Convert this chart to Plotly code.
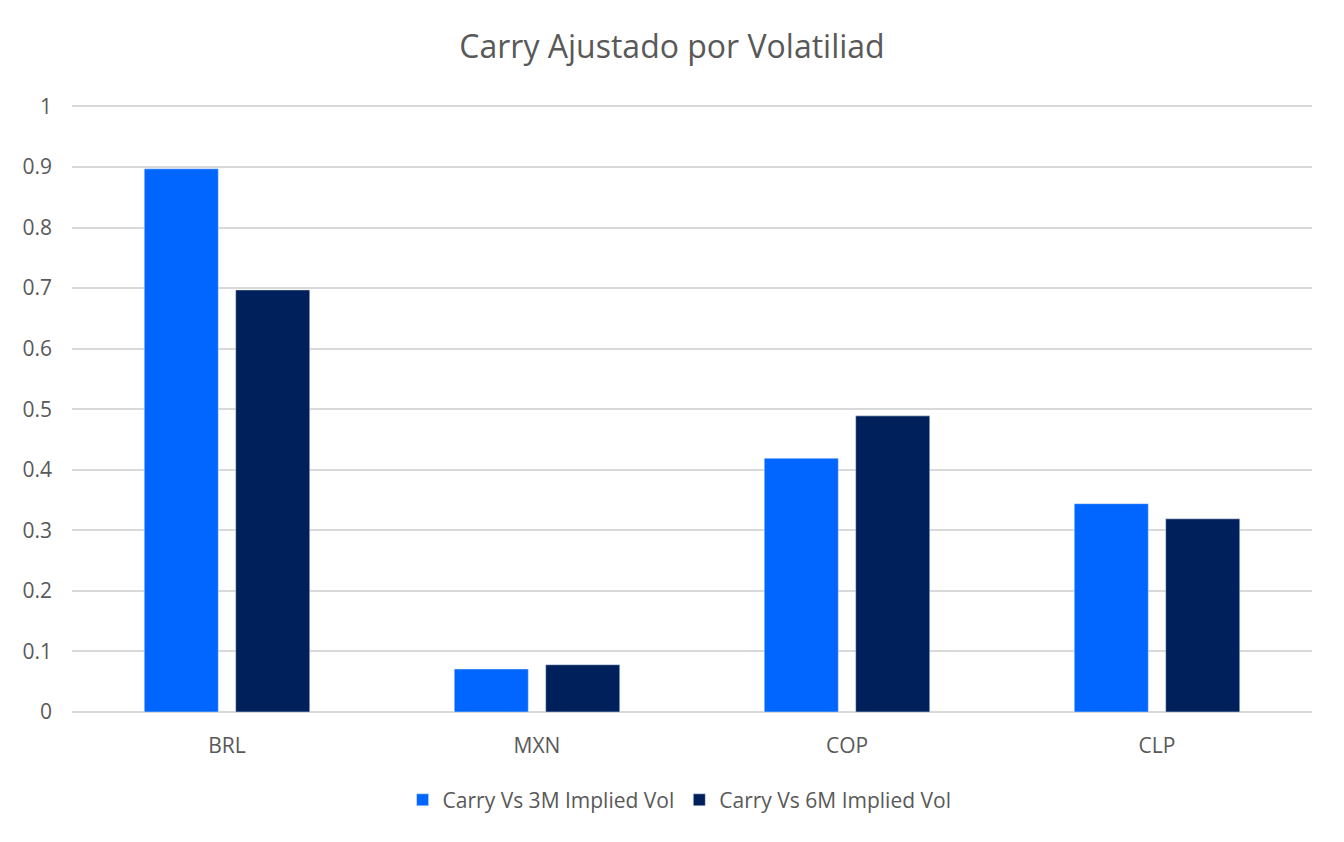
import plotly.graph_objects as go

# data
currencies = ["BRL", "MXN", "COP", "CLP"]
carry_3m = [0.897, 0.071, 0.419, 0.344]
carry_6m = [0.697, 0.078, 0.489, 0.319]

grey = "#595959"

fig = go.Figure()
fig.add_trace(go.Bar(x=currencies, y=carry_3m, name="Carry Vs 3M Implied Vol",
                     marker_color="#0066FF"))
fig.add_trace(go.Bar(x=currencies, y=carry_6m, name="Carry Vs 6M Implied Vol",
                     marker_color="#00205B"))

fig.update_layout(
    width=1344, height=842,
    paper_bgcolor="white", plot_bgcolor="white",
    font=dict(family="Open Sans", color=grey, size=21),
    title=dict(text="Carry Ajustado por Volatiliad", x=0.5, xanchor="center",
               y=0.945, yanchor="middle", font=dict(size=32, color=grey)),
    margin=dict(l=72, r=32, t=104, b=130),
    barmode="group", bargap=0.41, bargroupgap=0.19,
    legend=dict(orientation="h", x=0.49, xanchor="center", y=-0.145, yanchor="middle",
                font=dict(size=21, color=grey), itemwidth=30),
    showlegend=True,
)
fig.update_yaxes(range=[0, 1.004], tickvals=[i / 10 for i in range(11)],
                 tickformat="~g", showgrid=True,
                 gridcolor="#D9D9D9", gridwidth=2, zeroline=True,
                 zerolinecolor="#D9D9D9", zerolinewidth=2, ticks="", ticklabelstandoff=19,
                 tickfont=dict(size=21))
fig.update_xaxes(showline=False, ticks="", ticklabelstandoff=19, tickfont=dict(size=21))

fig.write_html("out.html", config={"displayModeBar": False},
               post_script="document.body.style.margin='0';")
